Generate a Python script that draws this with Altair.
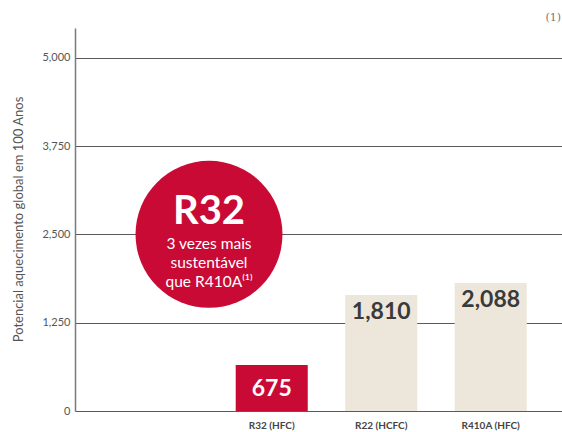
import altair as alt
import pandas as pd

categories = ["R32 (HFC)", "R22 (HCFC)", "R410A (HFC)"]
bar_heights = [650, 1640, 1810]
value_labels = ["675", "1,810", "2,088"]
bar_colors = ["#C90A35", "#EDE6DB", "#EDE6DB"]
label_colors = ["#FFFFFF", "#3A3A3A", "#3A3A3A"]
y_ticks = [0, 1250, 2500, 3750, 5000]
circle_lines = ["3 vezes mais", "sustentável", "que R410A⁽¹⁾"]

FONT = "Lato"

df = pd.DataFrame({
    "cat": categories,
    "h": bar_heights,
    "lab": value_labels,
    "bc": bar_colors,
    "lc": label_colors,
})

xscale = alt.Scale(domain=categories, paddingInner=0.342, paddingOuter=0.895, align=0.82)
yscale = alt.Scale(domain=[0, 5420], nice=False, zero=True)

x = alt.X("cat:N", scale=xscale, sort=categories, title=None,
          axis=alt.Axis(labelAngle=0, ticks=False, domain=False, labelFont=FONT,
                        labelFontWeight="bold", labelFontSize=10, labelColor="#444444",
                        labelPadding=9))
y = alt.Y("h:Q", scale=yscale,
          title="Potencial aquecimento global em 100 Anos",
          axis=alt.Axis(values=y_ticks, format=",d", ticks=False, grid=True,
                        gridColor="#5A5A5A", gridWidth=1, gridOpacity=1,
                        domainColor="#7A7A7A", domainWidth=1.5,
                        labelFont=FONT, labelFontSize=11, labelColor="#555555",
                        labelPadding=5, titleFont=FONT, titleFontSize=13,
                        titleFontWeight="normal", titleColor="#555555", titlePadding=16))

bars = alt.Chart(df).mark_bar().encode(
    x=x, y=y, color=alt.Color("bc:N", scale=None)
)

labels = alt.Chart(df).transform_calculate(
    ly="datum.h - (datum.cat == 'R32 (HFC)' ? 95 : 0)"
).mark_text(font=FONT, fontWeight="bold", fontSize=23, baseline="top", dy=6).encode(
    x=alt.X("cat:N", scale=xscale, sort=categories),
    y=alt.Y("ly:Q", scale=yscale),
    text="lab:N",
    color=alt.Color("lc:N", scale=None),
)

circle_df = pd.DataFrame({"v": [2500]})
circle = alt.Chart(circle_df).mark_point(shape="circle", filled=True, opacity=1,
                                         color="#C90A35", size=21600).encode(
    x=alt.value(134), y=alt.Y("v:Q", scale=yscale)
)
r32 = alt.Chart(circle_df).mark_text(text="R32", font=FONT, fontWeight="bold",
                                     fontSize=40, color="white", dy=-22).encode(
    x=alt.value(134), y=alt.Y("v:Q", scale=yscale)
)
sub = alt.Chart(circle_df).mark_text(text=circle_lines, font=FONT, fontSize=15.5,
                                     color="white", baseline="top", dy=3,
                                     lineHeight=19).encode(
    x=alt.value(134),
    y=alt.Y("v:Q", scale=yscale),
)

note = alt.Chart(circle_df).mark_text(text="(1)", font="DejaVu Serif", fontSize=11,
                                      color="#777777", align="right").encode(
    x=alt.value(486), y=alt.value(-10)
)

chart = alt.layer(bars, labels, circle, r32, sub, note).properties(
    width=487, height=383,
    padding={"left": 75, "top": 28, "right": 0, "bottom": 21},
    autosize="none",
).configure_view(stroke=None).configure_axisY(titleY=191, titleAnchor="middle")

chart.save("out.html", embed_options={"renderer": "svg", "actions": False})
